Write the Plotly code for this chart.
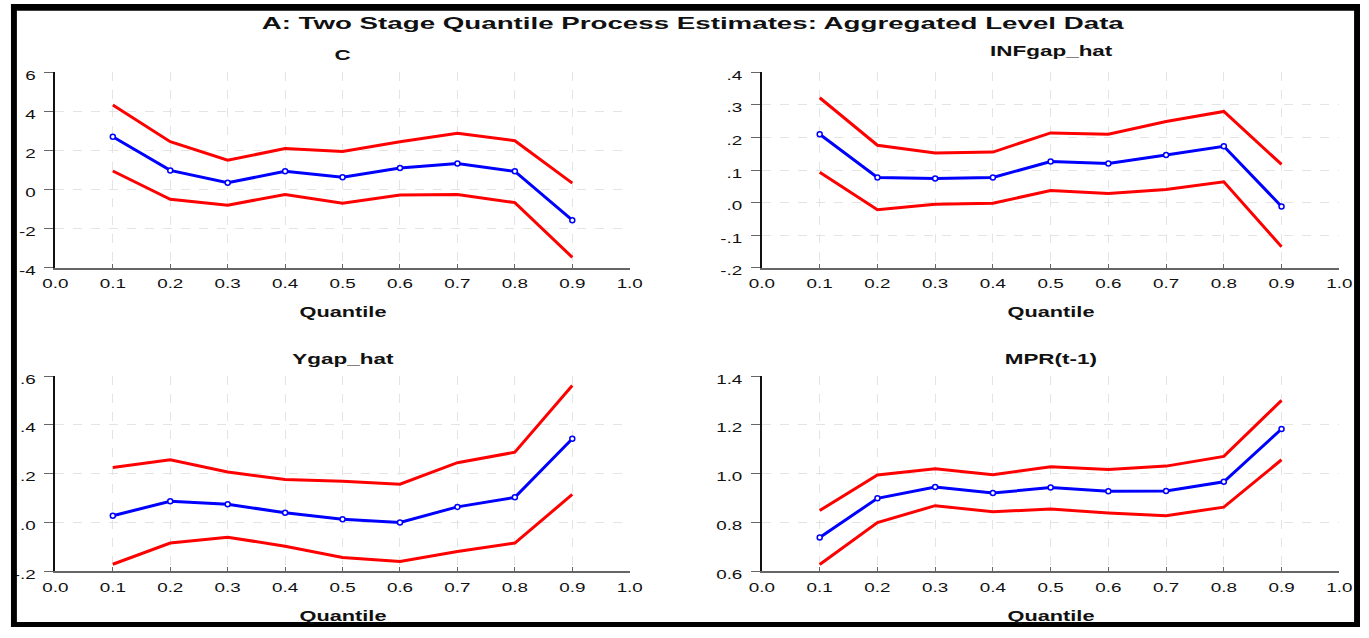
import plotly.graph_objects as go

W, H = 1369, 638

quantiles = [0.1, 0.2, 0.3, 0.4, 0.5, 0.6, 0.7, 0.8, 0.9]

c_est = [2.70, 0.98, 0.35, 0.93, 0.63, 1.10, 1.33, 0.93, -1.57]
c_upper = [4.33, 2.45, 1.50, 2.10, 1.95, 2.45, 2.88, 2.50, 0.33]
c_lower = [0.95, -0.50, -0.80, -0.25, -0.70, -0.28, -0.25, -0.67, -3.47]

inf_est = [0.210, 0.077, 0.074, 0.077, 0.126, 0.120, 0.146, 0.173, -0.012]
inf_upper = [0.322, 0.176, 0.152, 0.155, 0.214, 0.210, 0.249, 0.280, 0.117]
inf_lower = [0.093, -0.022, -0.005, -0.002, 0.037, 0.028, 0.040, 0.064, -0.136]

ygap_est = [0.028, 0.087, 0.075, 0.040, 0.013, 0.000, 0.064, 0.103, 0.343]
ygap_upper = [0.225, 0.257, 0.207, 0.176, 0.169, 0.157, 0.245, 0.288, 0.561]
ygap_lower = [-0.171, -0.084, -0.060, -0.097, -0.143, -0.160, -0.119, -0.084, 0.115]

mpr_est = [0.739, 0.899, 0.945, 0.921, 0.943, 0.928, 0.929, 0.967, 1.183]
mpr_upper = [0.849, 0.995, 1.020, 0.996, 1.028, 1.017, 1.031, 1.071, 1.300]
mpr_lower = [0.628, 0.800, 0.869, 0.844, 0.855, 0.839, 0.828, 0.863, 1.057]

x_ticks = [0.0, 0.1, 0.2, 0.3, 0.4, 0.5, 0.6, 0.7, 0.8, 0.9, 1.0]
x_ticktext = ["0.0", "0.1", "0.2", "0.3", "0.4", "0.5", "0.6", "0.7", "0.8", "0.9", "1.0"]

c_ticks = [-4, -2, 0, 2, 4, 6]
c_ticktext = ["-4", "-2", "0", "2", "4", "6"]
inf_ticks = [-0.2, -0.1, 0.0, 0.1, 0.2, 0.3, 0.4]
inf_ticktext = ["-.2", "-.1", ".0", ".1", ".2", ".3", ".4"]
ygap_ticks = [-0.2, 0.0, 0.2, 0.4, 0.6]
ygap_ticktext = ["-.2", ".0", ".2", ".4", ".6"]
mpr_ticks = [0.6, 0.8, 1.0, 1.2, 1.4]
mpr_ticktext = ["0.6", "0.8", "1.0", "1.2", "1.4"]

panel_titles = ["C", "INFgap_hat", "Ygap_hat", "MPR(t-1)"]
main_title = "A: Two Stage Quantile Process Estimates: Aggregated Level Data"
x_title = "Quantile"

FONT = "Liberation Sans, Arial, sans-serif"

panels = [
    (c_est, c_upper, c_lower, c_ticks, c_ticktext, [-4, 6]),
    (inf_est, inf_upper, inf_lower, inf_ticks, inf_ticktext, [-0.2, 0.4]),
    (ygap_est, ygap_upper, ygap_lower, ygap_ticks, ygap_ticktext, [-0.2, 0.6]),
    (mpr_est, mpr_upper, mpr_lower, mpr_ticks, mpr_ticktext, [0.6, 1.4]),
]

# pixel boxes of the plot areas: (left, right, top, bottom)
boxes = [
    (47, 629, 70, 270),
    (763, 1348, 70, 270),
    (47, 629, 381, 581),
    (763, 1348, 381, 581),
]
title_y = [52, 48, 363, 363]
xlabel_y = [315, 315, 626, 626]

fig = go.Figure()

for i, (est, up, lo, ticks, ticktext, yr) in enumerate(panels):
    n = "" if i == 0 else str(i + 1)
    xa, ya = "x" + n, "y" + n
    for series, color, marker in [(up, "#ff0000", False), (lo, "#ff0000", False), (est, "#0000ff", True)]:
        fig.add_trace(go.Scatter(
            x=quantiles, y=series, xaxis=xa, yaxis=ya,
            mode="lines+markers" if marker else "lines",
            line=dict(color=color, width=3),
            marker=dict(symbol="circle", size=5, color="white",
                        line=dict(color=color, width=1.5)),
            showlegend=False, hoverinfo="skip", cliponaxis=False,
        ))
    l, r, t, b = boxes[i]
    xdom = [l / W, r / W]
    ydom = [1 - b / H, 1 - t / H]
    fig.layout["xaxis" + n] = dict(
        domain=xdom, range=[0, 1], anchor=ya,
        tickmode="array", tickvals=x_ticks, ticktext=x_ticktext,
        ticks="inside", ticklen=4, tickcolor="#666666", tickwidth=1,
        showline=True, linecolor="#666666", linewidth=2,
        showgrid=True, gridcolor="#e4e4e4", gridwidth=1, griddash="dash",
        zeroline=False, tickfont=dict(family=FONT, size=13, color="#111111"),
        ticklabelstandoff=3,
    )
    fig.layout["yaxis" + n] = dict(
        domain=ydom, range=yr, anchor=xa,
        tickmode="array", tickvals=ticks, ticktext=ticktext,
        ticks="outside", ticklen=9, tickcolor="#666666", tickwidth=1,
        showline=True, linecolor="#111111", linewidth=2,
        showgrid=True, gridcolor="#e4e4e4", gridwidth=1, griddash="dash",
        zeroline=False, tickfont=dict(family=FONT, size=13, color="#111111"),
        ticklabelstandoff=6, ticklabelshift=3,
    )
    cx = (l + r) / 2 / W
    fig.add_annotation(text="<b>" + panel_titles[i] + "</b>", xref="paper", yref="paper",
                       x=cx, y=1 - title_y[i] / H, xanchor="center", yanchor="middle",
                       showarrow=False, font=dict(family=FONT, size=15.5, color="#111111"))
    fig.add_annotation(text="<b>" + x_title + "</b>", xref="paper", yref="paper",
                       x=cx, y=1 - xlabel_y[i] / H, xanchor="center", yanchor="middle",
                       showarrow=False, font=dict(family=FONT, size=15, color="#111111"))

fig.add_annotation(text="<b>" + main_title + "</b>", xref="paper", yref="paper",
                   x=693 / W, y=1 - 19 / H, xanchor="center", yanchor="middle",
                   showarrow=False, font=dict(family=FONT, size=16.5, color="#111111"))

# black frame around the figure
for (x0, x1, y0, y1) in [(2, 8, 0, 638), (1363, 1369, 0, 638), (2, 1369, 0, 7), (2, 1369, 633, 638)]:
    fig.add_shape(type="rect", xref="paper", yref="paper",
                  x0=x0 / W, x1=x1 / W, y0=1 - y1 / H, y1=1 - y0 / H,
                  fillcolor="black", line=dict(width=0), layer="above")

fig.update_layout(
    width=W, height=H, margin=dict(l=0, r=0, t=0, b=0),
    paper_bgcolor="white", plot_bgcolor="white",
    font=dict(family=FONT),
)

# the reference text is horizontally stretched: widen each text glyph about its anchor
post = """
document.body.style.margin='0';
document.body.style.overflow='hidden';
var gd = document.getElementById('{plot_id}');
function widen(t, sx) {
  var x = parseFloat(t.getAttribute('x') || '0');
  var tr = t.getAttribute('transform') || '';
  t.setAttribute('transform', tr + ' translate(' + x + ',0) scale(' + sx + ',1) translate(' + (-x) + ',0)');
}
gd.querySelectorAll('.xaxislayer-above text, .yaxislayer-above text').forEach(function(t){ widen(t, 1.45); });
gd.querySelectorAll('.annotation-text').forEach(function(t){
  widen(t, t.textContent.indexOf('Two Stage') >= 0 ? 1.68 : 1.45);
});
"""

fig.write_html("out.html", post_script=post, config={"displayModeBar": False})
